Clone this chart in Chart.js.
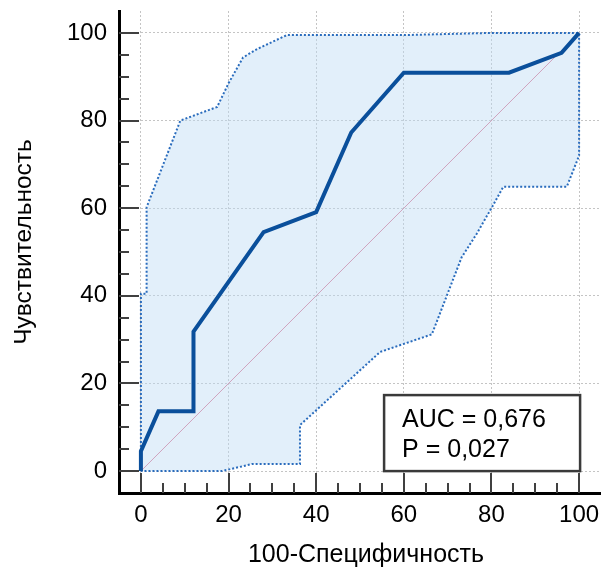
<!DOCTYPE html>
<html>
<head>
<meta charset="utf-8">
<script src="https://cdn.jsdelivr.net/npm/chart.js@4.4.1/dist/chart.umd.min.js"></script>
<style>
    html, body { margin: 0; padding: 0; background: #fff; }
</style>
</head>
<body>
<canvas id="rocChart" width="601" height="567"></canvas>
<script>
// ROC curve: 100-specificity vs sensitivity
var rocX = [0, 0, 4, 12, 12, 28, 40, 48, 60, 84, 96, 100];
var rocY = [0, 4.55, 13.64, 13.64, 31.82, 54.55, 59.09, 77.27, 90.91, 90.91, 95.45, 100];

// confidence band around the curve
var upperX = [0, 0, 1.3, 1.3, 9, 17.4, 20, 23.3, 26.5, 33.3, 60, 80, 100];
var upperY = [0, 40.5, 40.5, 60.2, 80, 83.1, 88.5, 94.4, 96.3, 99.5, 99.5, 100, 100];
var lowerX = [0, 18.5, 25.3, 36.3, 36.3, 54.6, 66.4, 73.2, 76.6, 80.1, 82.7, 97.2, 100, 100];
var lowerY = [0, 0, 1.6, 1.6, 10.5, 27.2, 31.2, 48.8, 54.1, 60.2, 64.9, 64.9, 72, 100];

// reference diagonal
var diagX = [0, 100];
var diagY = [0, 100];

var axisTicks = [0, 20, 40, 60, 80, 100];
var minorStep = 5;

var xTitle = '100-Специфичность';
var yTitle = 'Чувствительность';
var aucText = 'AUC = 0,676';
var pText = 'P = 0,027';

var FONT = '"Liberation Sans", Arial, sans-serif';

function toPoints(xs, ys) {
    return xs.map(function (x, i) { return { x: x, y: ys[i] }; });
}

// band drawn as one closed shape: upper bound out, lower bound back
var bandPoints = toPoints(upperX, upperY).concat(toPoints(lowerX, lowerY).reverse());

// inward tick marks, axis titles and the AUC box
var rocDecor = {
    id: 'rocDecor',
    afterDatasetsDraw: function (chart) {
        var ctx = chart.ctx;
        var area = chart.chartArea;
        var xs = chart.scales.x;
        var ys = chart.scales.y;
        ctx.save();

        ctx.strokeStyle = '#404040';
        ctx.lineWidth = 2;
        var last = axisTicks[axisTicks.length - 1];
        for (var v = axisTicks[0]; v <= last; v += minorStep) {
            var len = axisTicks.indexOf(v) >= 0 ? 20 : 10;
            var px = Math.round(xs.getPixelForValue(v));
            var py = Math.round(ys.getPixelForValue(v));
            ctx.beginPath();
            ctx.moveTo(px, area.bottom);
            ctx.lineTo(px, area.bottom - len);
            ctx.moveTo(area.left, py);
            ctx.lineTo(area.left + len, py);
            ctx.stroke();
        }

        // AUC box sits in the lower right corner of the unit square
        var right = xs.getPixelForValue(100) + 1;
        var bottom = ys.getPixelForValue(0);
        var w = 196, h = 76;
        ctx.fillStyle = '#fff';
        ctx.fillRect(right - w, bottom - h, w, h);
        ctx.strokeStyle = '#3a3a3a';
        ctx.lineWidth = 2.5;
        ctx.strokeRect(right - w, bottom - h, w, h);
        ctx.fillStyle = '#000';
        ctx.font = '25px ' + FONT;
        ctx.textAlign = 'left';
        ctx.textBaseline = 'alphabetic';
        ctx.fillText(aucText, right - w + 18, bottom - 44);
        ctx.fillText(pText, right - w + 18, bottom - 14);

        // axis titles
        ctx.textAlign = 'center';
        ctx.fillText(xTitle, xs.getPixelForValue(50) + 6, 562);
        ctx.font = '24.5px ' + FONT;
        ctx.translate(31, ys.getPixelForValue(50) - 10);
        ctx.rotate(-Math.PI / 2);
        ctx.fillText(yTitle, 0, 0);

        ctx.restore();
    }
};

function axisOptions(fitFn, pad) {
    return {
        type: 'linear',
        min: -5,
        max: 105,
        afterBuildTicks: function (scale) {
            scale.ticks = axisTicks.map(function (v) { return { value: v }; });
        },
        afterFit: fitFn,
        grid: { color: '#c4c4c4', lineWidth: 1, drawTicks: false },
        border: { display: true, color: '#000', width: 3, dash: [2, 2] },
        ticks: {
            color: '#000',
            padding: pad,
            autoSkip: false,
            maxRotation: 0,
            font: { family: FONT, size: 24 }
        }
    };
}

var ctx = document.getElementById('rocChart').getContext('2d');
var rocChart = new Chart(ctx, {
    type: 'line',
    data: {
        datasets: [
            {
                label: 'ROC',
                data: toPoints(rocX, rocY),
                borderColor: '#0a4f9b',
                borderWidth: 4,
                pointRadius: 0,
                fill: false,
                tension: 0
            },
            {
                label: 'Diagonal',
                data: toPoints(diagX, diagY),
                borderColor: 'rgba(205, 150, 180, 0.85)',
                borderWidth: 1,
                pointRadius: 0,
                fill: false
            },
            {
                label: 'CI',
                data: bandPoints,
                borderColor: '#2a6cbd',
                borderWidth: 2,
                borderDash: [2, 2],
                backgroundColor: 'rgba(190, 220, 245, 0.45)',
                fill: 'shape',
                pointRadius: 0,
                tension: 0
            }
        ]
    },
    options: {
        responsive: false,
        animation: false,
        layout: { padding: { top: 11, right: 0, bottom: 0, left: 0 } },
        plugins: {
            legend: { display: false },
            tooltip: { enabled: false }
        },
        scales: {
            x: axisOptions(function (scale) {
                scale.height = 74;
                scale.paddingLeft = 0;
                scale.paddingRight = 0;
            }, 8),
            y: axisOptions(function (scale) {
                scale.width = 119;
                scale.paddingTop = 0;
                scale.paddingBottom = 0;
            }, 12)
        }
    },
    plugins: [rocDecor]
});
</script>
</body>
</html>
